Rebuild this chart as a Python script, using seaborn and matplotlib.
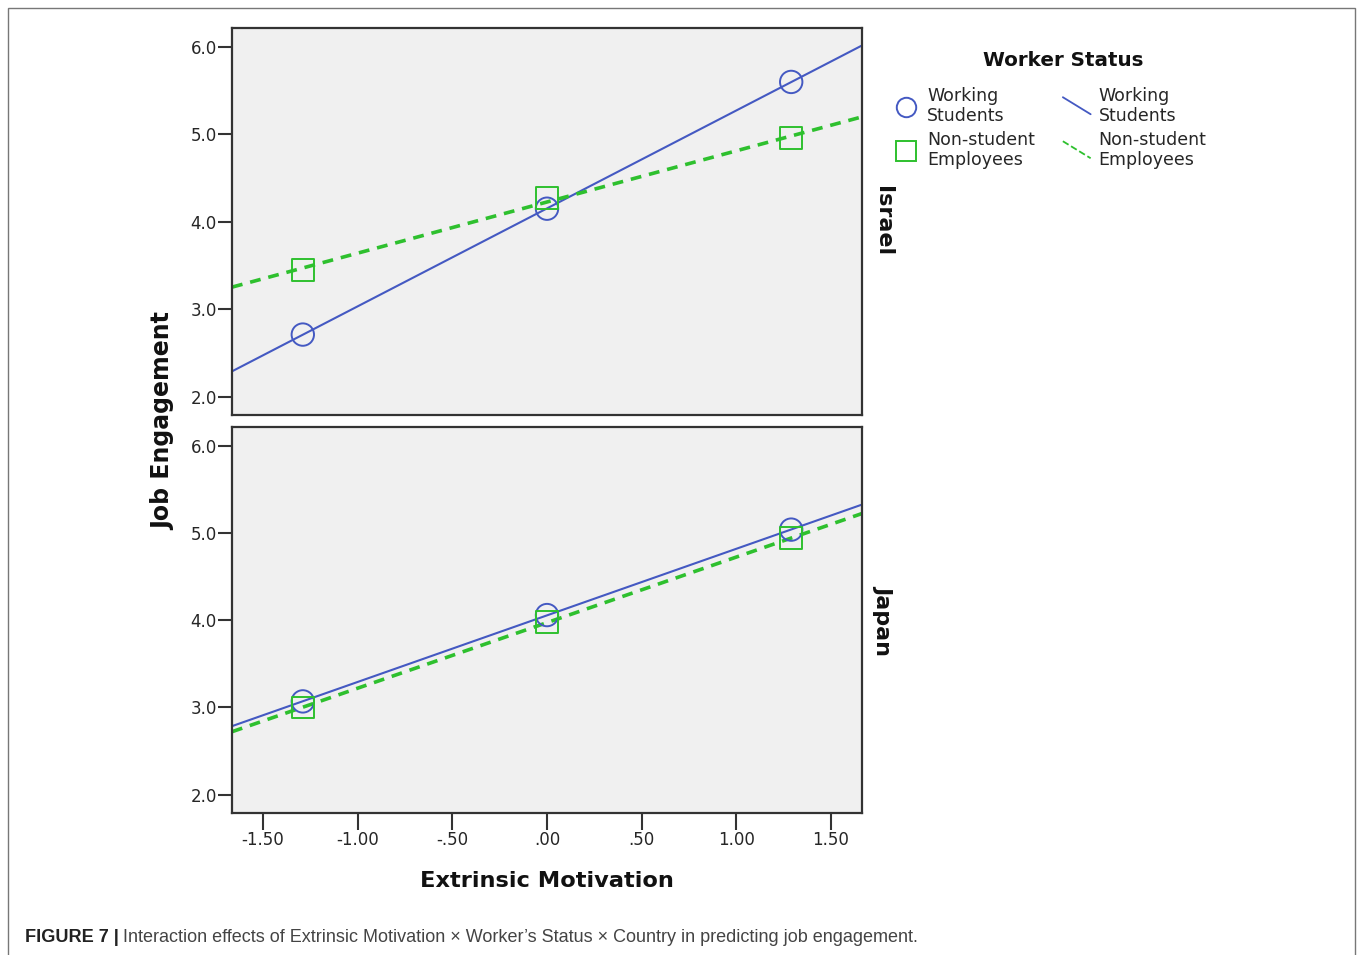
import numpy as np
import pandas as pd
import matplotlib
matplotlib.use("Agg")
import matplotlib.pyplot as plt
import matplotlib.patches as mpatches
from matplotlib.lines import Line2D
from matplotlib.legend_handler import HandlerBase
import seaborn as sns

# ---- data ----
x_vals = [-1.29, 0.00, 1.29]
countries = ["Israel", "Japan"]
statuses = ["Working Students", "Non-student Employees"]
israel_working = [2.71, 4.15, 5.60]
israel_nonstudent = [3.45, 4.27, 4.96]
japan_working = [3.07, 4.06, 5.04]
japan_nonstudent = [3.00, 3.98, 4.94]
x_ticks = [-1.5, -1.0, -0.5, 0.0, 0.5, 1.0, 1.5]
x_ticklabels = ["-1.50", "-1.00", "-.50", ".00", ".50", "1.00", "1.50"]
y_ticks = [2.0, 3.0, 4.0, 5.0, 6.0]
y_ticklabels = ["2.0", "3.0", "4.0", "5.0", "6.0"]

rows = []
for c, ws, ns in [("Israel", israel_working, israel_nonstudent),
                  ("Japan", japan_working, japan_nonstudent)]:
    for x, y in zip(x_vals, ws):
        rows.append((c, "Working Students", x, y))
    for x, y in zip(x_vals, ns):
        rows.append((c, "Non-student Employees", x, y))
df = pd.DataFrame(rows, columns=["country", "status", "x", "y"])

sns.set_style("white")
plt.rcParams["font.family"] = ["DejaVu Sans"]

W, H = 1357, 955
fig = plt.figure(figsize=(W / 100, H / 100), dpi=100)

blue = "#4459C2"
green = "#2EC02E"
colors = {"Working Students": blue, "Non-student Employees": green}
markers = {"Working Students": "o", "Non-student Employees": "s"}
styles = {"Working Students": "-", "Non-student Employees": (0, (3.0, 2.2))}
widths = {"Working Students": 1.5, "Non-student Employees": 2.6}

def fx(px):
    return px / W

def fy(py):
    return 1 - py / H

panels = {"Israel": (28, 415), "Japan": (427, 813)}
xlim = (-1.664, 1.664)
ylim = (1.79, 6.217)

axes = {}
for c in countries:
    top, bot = panels[c]
    ax = fig.add_axes([fx(232), fy(bot), fx(862) - fx(232), fy(top) - fy(bot)])
    axes[c] = ax
    ax.set_facecolor("#F0F0F0")
    sub = df[df.country == c]
    for s in statuses:
        d = sub[sub.status == s]
        k, b = np.polyfit(d.x, d.y, 1)
        xl = np.array(xlim)
        line_df = pd.DataFrame({"x": xl, "y": k * xl + b})
        sns.lineplot(data=line_df, x="x", y="y", ax=ax, color=colors[s],
                     linewidth=widths[s], zorder=2)
        ax.lines[-1].set_linestyle(styles[s])
        sns.scatterplot(data=d, x="x", y="y", ax=ax, marker=markers[s],
                        s=260 if s == "Working Students" else 250,
                        facecolors="none", edgecolor=colors[s], linewidth=1.4,
                        zorder=3)
    ax.set_xlim(*xlim)
    ax.set_ylim(*ylim)
    ax.set_yticks(y_ticks)
    ax.set_yticklabels(y_ticklabels)
    ax.set_xlabel("")
    ax.set_ylabel("")
    for sp in ax.spines.values():
        sp.set_color("#333333")
        sp.set_linewidth(1.6)
        sp.set_visible(True)
    ax.tick_params(axis="y", direction="out", length=10, width=1.5, color="#333333",
                   labelsize=12, pad=1, left=True)
    ax.text(1.018, 0.5, c, transform=ax.transAxes, rotation=-90, ha="left",
            va="center", fontsize=16, fontweight="bold", color="#111111")

axes["Israel"].set_xticks([])
axb = axes["Japan"]
axb.set_xticks(x_ticks)
axb.set_xticklabels(x_ticklabels)
axb.tick_params(axis="x", direction="out", length=12, width=1.5, color="#333333",
                labelsize=12, pad=1, bottom=True)
axb.set_xlabel("Extrinsic Motivation", fontsize=16.2, fontweight="bold", labelpad=16,
               color="#111111")

fig.text(fx(163), fy(421), "Job Engagement", rotation=90, ha="center", va="center",
         fontsize=17, fontweight="bold", color="#111111")


class SlantHandler(HandlerBase):
    def create_artists(self, legend, orig_handle, xdescent, ydescent, width,
                       height, fontsize, trans):
        x0, x1 = -xdescent, -xdescent + width
        y0, y1 = -ydescent + height * 1.3, -ydescent - height * 0.1
        ln = Line2D([x0, x1], [y0, y1], color=orig_handle.get_color(),
                    linewidth=orig_handle.get_linewidth(),
                    linestyle=orig_handle.get_linestyle(), transform=trans)
        return [ln]


# legend
handles = [
    Line2D([], [], marker="o", linestyle="none", markersize=14, markerfacecolor="none",
           markeredgecolor=blue, markeredgewidth=1.4),
    Line2D([], [], marker="s", linestyle="none", markersize=14, markerfacecolor="none",
           markeredgecolor=green, markeredgewidth=1.4),
    Line2D([], [], color=blue, linewidth=1.3),
    Line2D([], [], color=green, linewidth=1.3, linestyle=(0, (4, 4))),
]
labels = ["Working\nStudents", "Non-student\nEmployees", "Working\nStudents", "Non-student\nEmployees"]
slant = SlantHandler()
leg = fig.legend(handles, labels, ncol=2, loc="upper left",
                 bbox_to_anchor=(fx(876), fy(71)), frameon=False,
                 fontsize=12.5, handlelength=1.6, handletextpad=0.45,
                 columnspacing=1.6, labelspacing=0.3,
                 handler_map={handles[2]: slant, handles[3]: slant})
fig.text(fx(1063), fy(60), "Worker Status", ha="center", va="center",
         fontsize=14.3, fontweight="bold", color="#111111")

# caption
renderer = fig.canvas.get_renderer()
t1 = fig.text(fx(25), fy(937), "FIGURE 7 |", fontsize=13.1, fontweight="bold",
              family="Liberation Sans", va="center", ha="left", color="#222222")
bb = t1.get_window_extent(renderer=renderer)
fig.text((bb.x1 + 4) / W, fy(937),
         "Interaction effects of Extrinsic Motivation \u00d7 Worker\u2019s Status \u00d7 Country in predicting job engagement.",
         fontsize=13.0, family="Liberation Sans", va="center", ha="left", color="#444444")

# outer frame
fig.add_artist(mpatches.Rectangle((fx(8), -0.1), fx(1355) - fx(8), fy(8) + 0.1,
                                  transform=fig.transFigure, fill=False,
                                  edgecolor="#777777", linewidth=1.0))

fig.savefig("out.png", dpi=100)
